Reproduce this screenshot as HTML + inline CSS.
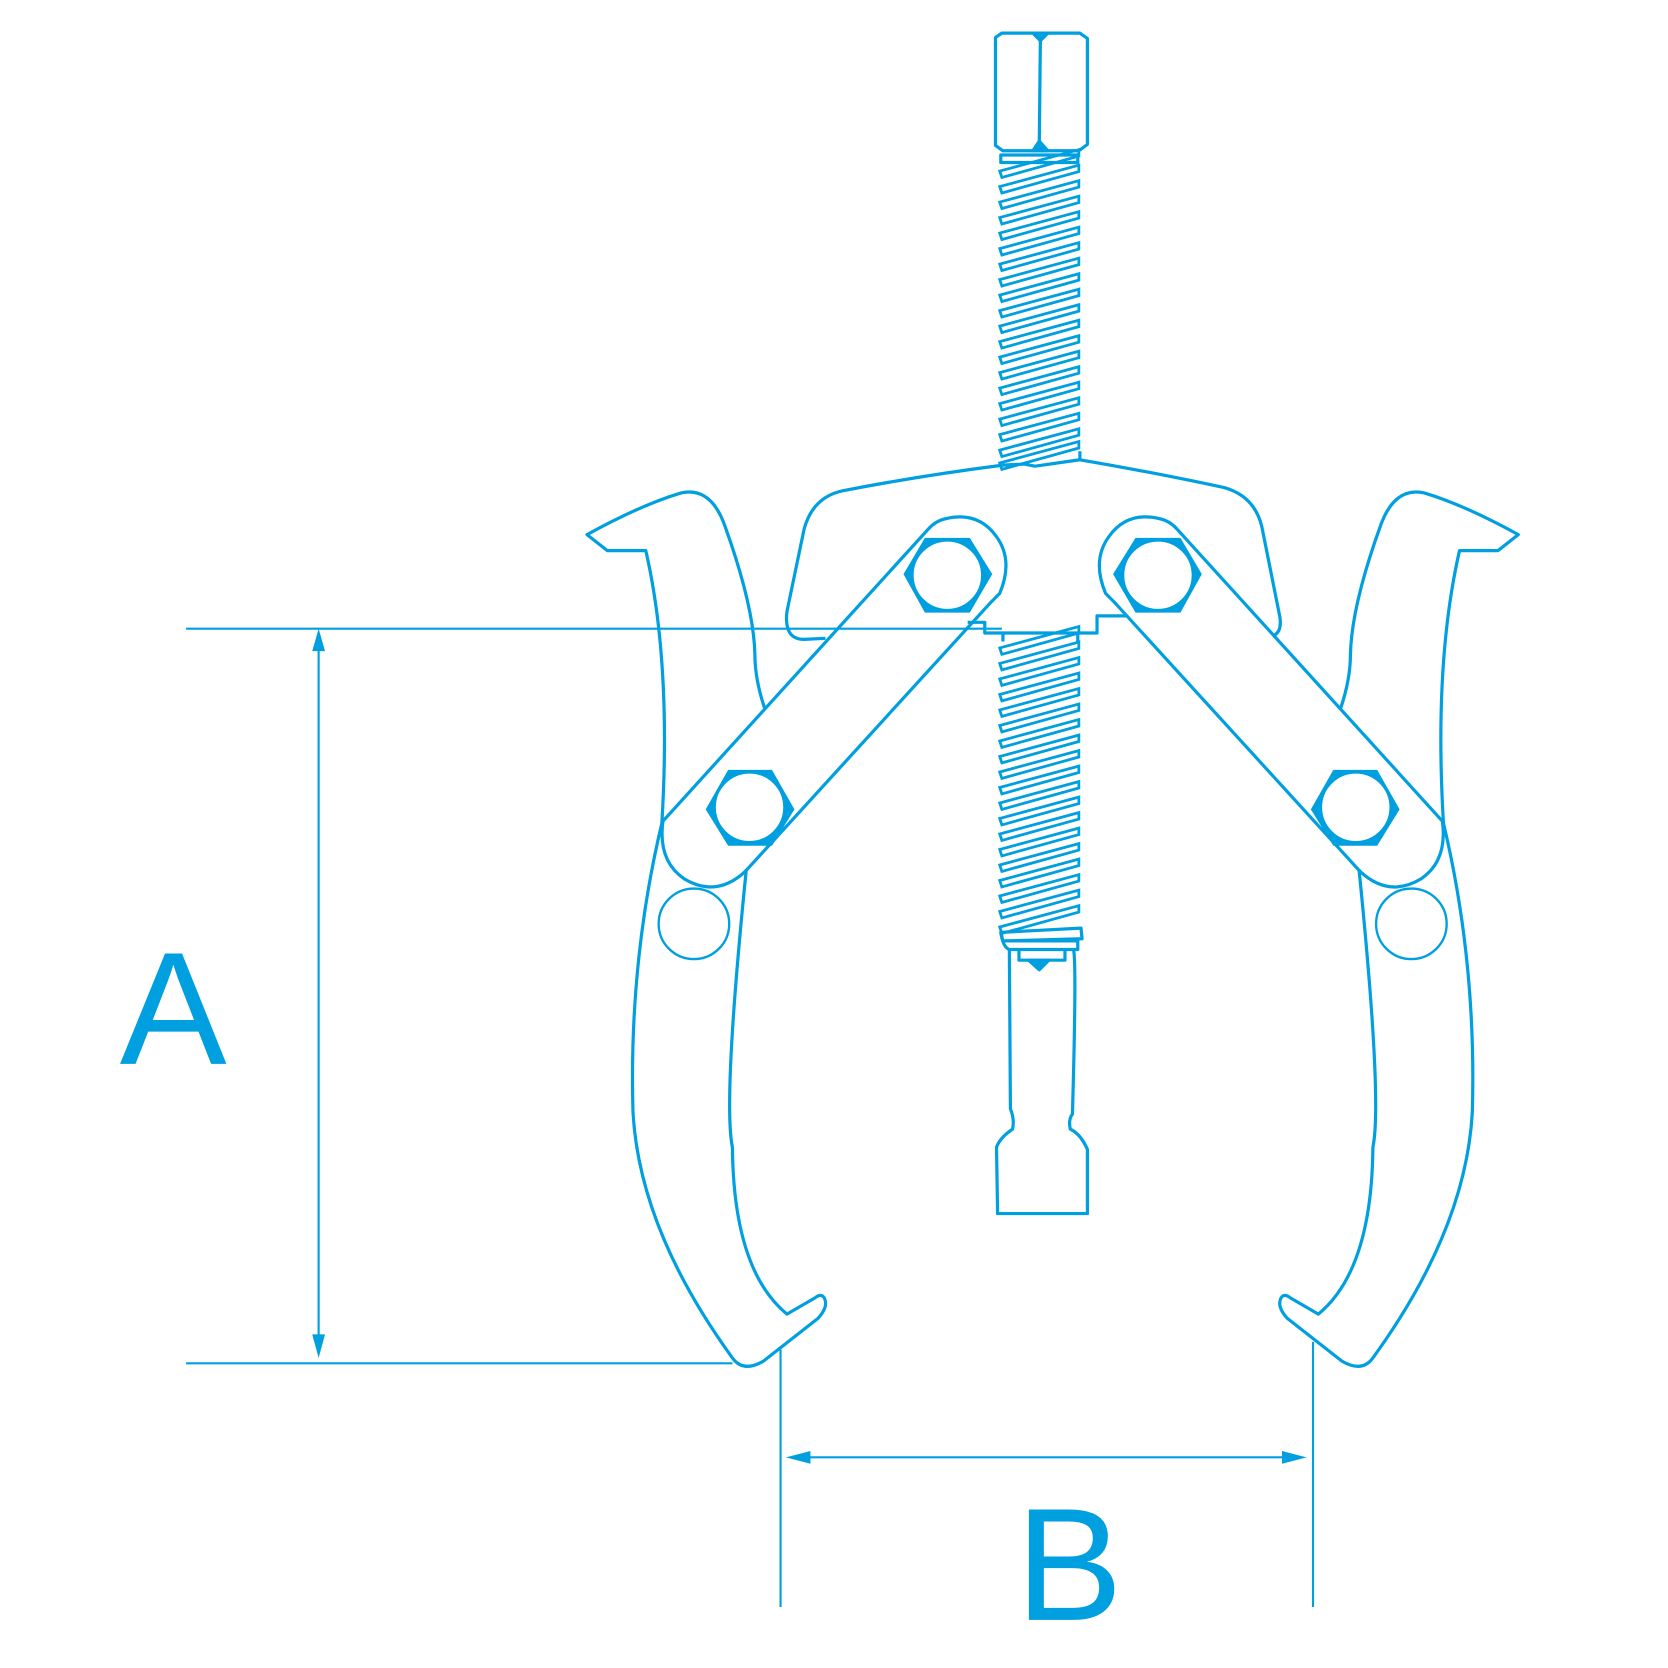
<!DOCTYPE html>
<html><head><meta charset="utf-8"><style>
html,body{margin:0;padding:0;background:#fff;}
svg{display:block;}
</style></head><body>
<svg width="1668" height="1668" viewBox="0 0 1560 1560" xmlns="http://www.w3.org/2000/svg">
<defs>
<g id="thr"><polygon points="935,8 1009,-12 1009,-6 937,14" fill="none" stroke="#009fe0" stroke-width="2.6"/></g>
<g id="half" fill="none" stroke="#009fe0" stroke-width="3" stroke-linejoin="round">
  <path d="M620,768 L868,495 Q875,487 885,485 Q915,478 932,502 Q948,524 935,555 L927,563 L697,815 Q670,840 640,822 Q615,805 620,768 Z"/>
  <polygon points="865,503 907,503 928,537 907,573 865,573 845,537" fill="#009fe0" stroke="none"/>
  <circle cx="886" cy="538" r="33" fill="#fff"/>
  <polygon points="681,720 722,720 743,757 722,791 681,791 660,757" fill="#009fe0" stroke="none"/>
  <circle cx="701" cy="755" r="33" fill="#fff"/>
  <path d="M619,770 Q628,620 604,515 L568,515 L549,500 Q600,472 637,461 Q665,455 678,492 Q705,567 706,612 Q706,635 715,662"/>
  <path d="M619,770 Q588,900 592,1040 Q598,1150 685,1270 Q695,1284 714,1273 L765,1233 Q775,1222 771,1214 Q768,1209 762,1214 L736,1229 Q686,1188 685,1073 Q676,1030 698,813"/>
  <circle cx="649" cy="864" r="33" stroke-width="2.2"/>
</g>
</defs>
<g fill="none" stroke="#009fe0" stroke-width="2">
  <line x1="174" y1="588" x2="937" y2="588"/>
  <line x1="174" y1="1275" x2="685" y2="1275"/>
  <line x1="298" y1="600" x2="298" y2="1258"/>
  <line x1="730" y1="1262" x2="730" y2="1503"/>
  <line x1="1228" y1="1255" x2="1228" y2="1503"/>
  <line x1="750" y1="1363" x2="1208" y2="1363"/>
</g>
<g fill="#009fe0">
  <polygon points="298,588 292,609 304,609"/>
  <polygon points="298,1270 292,1248 304,1248"/>
  <polygon points="735,1363 758,1357 758,1369"/>
  <polygon points="1222,1363 1199,1357 1199,1369"/>
</g>
<text x="162" y="995" font-family="Liberation Sans, sans-serif" font-size="150" fill="#009fe0" text-anchor="middle">A</text>
<text x="1000" y="1515" font-family="Liberation Sans, sans-serif" font-size="150" fill="#009fe0" text-anchor="middle">B</text>

<use href="#half"/>
<use href="#half" transform="translate(1969,0) scale(-1,1)"/>

<g fill="none" stroke="#009fe0" stroke-width="3" stroke-linejoin="round">
  <path d="M931,35 L937,31 L1010,31 L1017,36 L1017,135 L1009,141 L938,141 L931,136 Z"/>
  <line x1="973" y1="38" x2="972" y2="133"/>
  <polygon points="966,31 980,31 973,38" fill="#009fe0"/>
  <polygon points="966,141 980,141 972,132" fill="#009fe0"/>
  <path d="M936,145 L1008,145 L1008,152 L936,152 Z"/>
  <path d="M938,435 Q860,445 788,459 Q760,465 752,495 L736,572 Q733,598 752,598 L772,597"/>
  <path d="M1010,430 Q1080,442 1145,456 Q1173,464 1180,492 L1197,577 Q1199,590 1192,594"/>
  <path d="M938,435 L958,434 L968,436 L1010,430 L1010,422"/>
  <path d="M905,582 L921,582 L921,592 L1026,592 L1026,576 L1053,576"/>
  <path d="M938,592 L938,600 M1008,592 L1008,600"/>
  <path d="M936,872 L1011,868 L1012,878 L938,880 Z"/>
  <path d="M938,880 L1008,880 L1008,888 L944,888 Q938,886 936,872"/>
  <path d="M953,888 L953,898 L996,898 L996,888"/>
  <polygon points="962,898 981,898 972,907" fill="#009fe0"/>
  <path d="M944,888 L945,1037 Q949,1047 947,1056 Q935,1064 932,1073 L933,1135 L1017,1135 L1017,1075 Q1011,1061 1001,1056 Q999,1047 1003,1042 Q1007,900 1004,888"/>
</g>
<g>
  <use href="#thr" y="152"/><use href="#thr" y="166.5"/><use href="#thr" y="181"/><use href="#thr" y="195.5"/>
  <use href="#thr" y="210"/><use href="#thr" y="224.5"/><use href="#thr" y="239"/><use href="#thr" y="253.5"/>
  <use href="#thr" y="268"/><use href="#thr" y="282.5"/><use href="#thr" y="297"/><use href="#thr" y="311.5"/>
  <use href="#thr" y="326"/><use href="#thr" y="340.5"/><use href="#thr" y="355"/><use href="#thr" y="369.5"/>
  <use href="#thr" y="384"/><use href="#thr" y="398.5"/><use href="#thr" y="413"/><use href="#thr" y="425"/>
  <use href="#thr" y="598"/><use href="#thr" y="612.5"/><use href="#thr" y="627"/><use href="#thr" y="641.5"/>
  <use href="#thr" y="656"/><use href="#thr" y="670.5"/><use href="#thr" y="685"/><use href="#thr" y="699.5"/>
  <use href="#thr" y="714"/><use href="#thr" y="728.5"/><use href="#thr" y="743"/><use href="#thr" y="757.5"/>
  <use href="#thr" y="772"/><use href="#thr" y="786.5"/><use href="#thr" y="801"/><use href="#thr" y="815.5"/>
  <use href="#thr" y="830"/><use href="#thr" y="844.5"/><use href="#thr" y="859"/>
</g>
</svg>
</body></html>
